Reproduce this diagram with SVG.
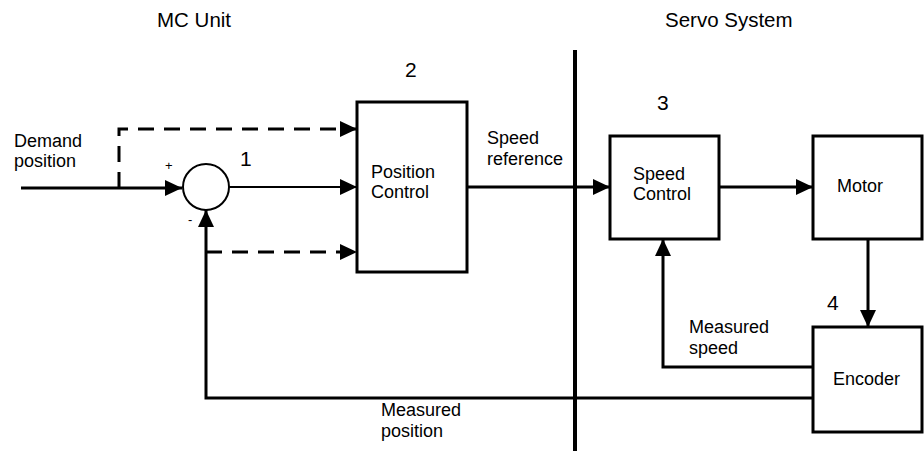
<svg xmlns="http://www.w3.org/2000/svg" width="924" height="451" viewBox="0 0 924 451">
<defs>
<marker id="ah" markerUnits="userSpaceOnUse" markerWidth="17" markerHeight="16" refX="17" refY="8" orient="auto">
<path d="M0,0 L17,8 L0,16 z" fill="#000"/>
</marker>
<style>
text{font-family:"Liberation Sans",Arial,sans-serif;fill:#000}
.lbl{font-size:18px}
.ttl{font-size:20.5px}
.num{font-size:21px}
.sm{font-size:13px}
.box{fill:#fff;stroke:#000;stroke-width:3}
.ln{fill:none;stroke:#000;stroke-width:3}
.thin{fill:none;stroke:#000;stroke-width:2}
.dash{fill:none;stroke:#000;stroke-width:3;stroke-dasharray:16 10}
</style>
</defs>
<rect width="924" height="451" fill="#fff"/>
<text class="ttl" x="157" y="27">MC Unit</text>
<text class="ttl" x="665" y="27">Servo System</text>
<line x1="575" y1="50" x2="575" y2="451" stroke="#000" stroke-width="4"/>
<g id="connectors">
<path class="ln" d="M21,188 H182" marker-end="url(#ah)"/>
<path class="dash" d="M119,188 V129 H357" marker-end="url(#ah)"/>
<path class="thin" d="M229,187 H357" marker-end="url(#ah)"/>
<path class="dash" d="M206,252 H357" marker-end="url(#ah)"/>
<path class="ln" d="M813,398 H206 V210" marker-end="url(#ah)"/>
<path class="ln" d="M467,187 H610" marker-end="url(#ah)"/>
<path class="ln" d="M719,187 H813" marker-end="url(#ah)"/>
<path class="ln" d="M868,239 V327" marker-end="url(#ah)"/>
<path class="ln" d="M813,367 H663 V239" marker-end="url(#ah)"/>
<text class="lbl" x="14" y="147">Demand</text>
<text class="lbl" x="14" y="167">position</text>
<text class="sm" x="165" y="170">+</text>
<text class="sm" x="188" y="224">-</text>
<text class="lbl" x="487" y="144">Speed</text>
<text class="lbl" x="487" y="165">reference</text>
<text class="lbl" x="689" y="333">Measured</text>
<text class="lbl" x="689" y="354">speed</text>
<text class="lbl" x="381" y="416">Measured</text>
<text class="lbl" x="381" y="437">position</text>
</g>
<g id="sum">
<circle cx="206" cy="187" r="23" fill="#fff" stroke="#000" stroke-width="2"/>
<text class="num" x="240" y="166">1</text>
</g>
<g id="position-control">
<rect class="box" x="357" y="102" width="110" height="170"/>
<text class="lbl" x="371" y="178">Position</text>
<text class="lbl" x="371" y="198">Control</text>
<text class="num" x="405" y="77">2</text>
</g>
<g id="speed-control">
<rect class="box" x="610" y="136" width="109" height="103"/>
<text class="lbl" x="633" y="180">Speed</text>
<text class="lbl" x="633" y="200">Control</text>
<text class="num" x="657" y="110">3</text>
</g>
<g id="motor">
<rect class="box" x="813" y="136" width="109" height="103"/>
<text class="lbl" x="837" y="192">Motor</text>
</g>
<g id="encoder">
<rect class="box" x="813" y="327" width="109" height="105"/>
<text class="lbl" x="833" y="385">Encoder</text>
<text class="num" x="827" y="310">4</text>
</g>
</svg>
